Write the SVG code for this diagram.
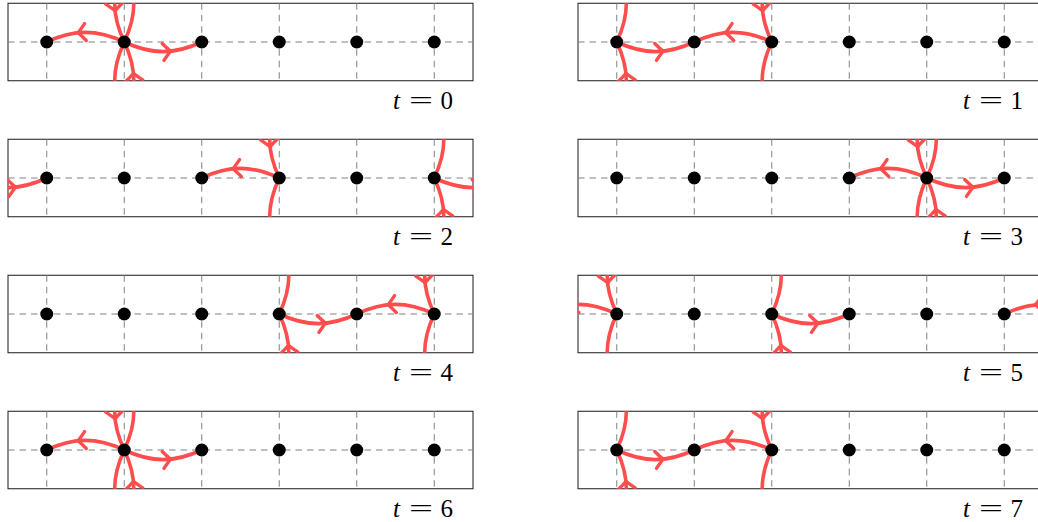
<svg xmlns="http://www.w3.org/2000/svg" xmlns:xlink="http://www.w3.org/1999/xlink" width="1038" height="522" viewBox="0 0 1038 522">
<style>
.box{fill:none;stroke:#1a1a1a;stroke-width:1}
.grid{fill:none;stroke:#808080;stroke-width:1;stroke-dasharray:6.5 5}
.edge{fill:none;stroke:#ff4d4d;stroke-width:3.6;stroke-linecap:round}
.tip{fill:none;stroke:#ff4d4d;stroke-width:3.4;stroke-linecap:round;stroke-linejoin:round}
.dot{fill:#000}
.lbl{font-family:"Liberation Serif",serif;font-size:25px;fill:#000}
.it{font-style:italic}
</style>
<defs>
<clipPath id="clip" clipPathUnits="userSpaceOnUse"><rect x="8" y="3.25" width="465" height="77.5"/></clipPath>
<path id="chev" class="tip" d="M-7.5,-8.5 Q-2.5,-2.5 0,0 Q-2.5,2.5 -7.5,8.5"/>
<g id="frame">
<rect class="box" x="8" y="3.25" width="465" height="77.5" fill="none"/>
<path class="grid" d="M8,42H473 M46.75,3.25V80.75 M124.25,3.25V80.75 M201.75,3.25V80.75 M279.25,3.25V80.75 M356.75,3.25V80.75 M434.25,3.25V80.75"/>
</g>
</defs>

<!-- t = 0 -->
<g id="panel-t0" transform="translate(0,0)">
<use xlink:href="#frame" href="#frame"/>
<g id="t0-connectors" clip-path="url(#clip)">
<path class="edge" d="M124.25,42 C96.75,29.2 74.25,29.2 46.75,42"/>
<use href="#chev" transform="translate(77.95,32.8) rotate(174.2)"/>
<path class="edge" d="M124.25,42 C151.75,54.8 174.25,54.8 201.75,42"/>
<use href="#chev" transform="translate(170.55,51.2) rotate(-5.8)"/>
<path class="edge" d="M124.25,-35.5 C111.45,-8 111.45,14.5 124.25,42 C111.45,69.5 111.45,92 124.25,119.5"/>
<use href="#chev" transform="translate(115.05,10.8) rotate(84.2)"/>
<path class="edge" d="M124.25,119.5 C137.05,92 137.05,69.5 124.25,42 C137.05,14.5 137.05,-8 124.25,-35.5"/>
<use href="#chev" transform="translate(133.45,73.2) rotate(-95.8)"/>
</g>
<g id="t0-n1"><circle class="dot" cx="46.75" cy="42" r="6.5"/></g>
<g id="t0-n2"><circle class="dot" cx="124.25" cy="42" r="6.5"/></g>
<g id="t0-n3"><circle class="dot" cx="201.75" cy="42" r="6.5"/></g>
<g id="t0-n4"><circle class="dot" cx="279.25" cy="42" r="6.5"/></g>
<g id="t0-n5"><circle class="dot" cx="356.75" cy="42" r="6.5"/></g>
<g id="t0-n6"><circle class="dot" cx="434.25" cy="42" r="6.5"/></g>
<g class="lbl"><text x="393" y="109" class="it">t</text><text x="409" y="109" textLength="24" lengthAdjust="spacingAndGlyphs">=</text><text x="440.5" y="109">0</text></g>
</g>

<!-- t = 1 -->
<g id="panel-t1" transform="translate(570,0)">
<use href="#frame"/>
<g id="t1-connectors" clip-path="url(#clip)">
<path class="edge" d="M46.75,42 C74.25,54.8 96.75,54.8 124.25,42"/>
<use href="#chev" transform="translate(93.05,51.2) rotate(-5.8)"/>
<path class="edge" d="M201.75,42 C174.25,29.2 151.75,29.2 124.25,42"/>
<use href="#chev" transform="translate(155.45,32.8) rotate(174.2)"/>
<path class="edge" d="M46.75,119.5 C59.55,92 59.55,69.5 46.75,42 C59.55,14.5 59.55,-8 46.75,-35.5"/>
<use href="#chev" transform="translate(55.95,73.2) rotate(-95.8)"/>
<path class="edge" d="M201.75,-35.5 C188.95,-8 188.95,14.5 201.75,42 C188.95,69.5 188.95,92 201.75,119.5"/>
<use href="#chev" transform="translate(192.55,10.8) rotate(84.2)"/>
</g>
<g id="t1-n1"><circle class="dot" cx="46.75" cy="42" r="6.5"/></g>
<g id="t1-n2"><circle class="dot" cx="124.25" cy="42" r="6.5"/></g>
<g id="t1-n3"><circle class="dot" cx="201.75" cy="42" r="6.5"/></g>
<g id="t1-n4"><circle class="dot" cx="279.25" cy="42" r="6.5"/></g>
<g id="t1-n5"><circle class="dot" cx="356.75" cy="42" r="6.5"/></g>
<g id="t1-n6"><circle class="dot" cx="434.25" cy="42" r="6.5"/></g>
<g class="lbl"><text x="393" y="109" class="it">t</text><text x="409" y="109" textLength="24" lengthAdjust="spacingAndGlyphs">=</text><text x="440.5" y="109">1</text></g>
</g>

<!-- t = 2 -->
<g id="panel-t2" transform="translate(0,136)">
<use href="#frame"/>
<g id="t2-connectors" clip-path="url(#clip)">
<path class="edge" d="M-30.75,42 C-3.25,54.8 19.25,54.8 46.75,42"/>
<use href="#chev" transform="translate(15.55,51.2) rotate(-5.8)"/>
<path class="edge" d="M434.25,42 C461.75,54.8 484.25,54.8 511.75,42"/>
<use href="#chev" transform="translate(480.55,51.2) rotate(-5.8)"/>
<path class="edge" d="M279.25,42 C251.75,29.2 229.25,29.2 201.75,42"/>
<use href="#chev" transform="translate(232.95,32.8) rotate(174.2)"/>
<path class="edge" d="M279.25,-35.5 C266.45,-8 266.45,14.5 279.25,42 C266.45,69.5 266.45,92 279.25,119.5"/>
<use href="#chev" transform="translate(270.05,10.8) rotate(84.2)"/>
<path class="edge" d="M434.25,119.5 C447.05,92 447.05,69.5 434.25,42 C447.05,14.5 447.05,-8 434.25,-35.5"/>
<use href="#chev" transform="translate(443.45,73.2) rotate(-95.8)"/>
</g>
<g id="t2-n1"><circle class="dot" cx="46.75" cy="42" r="6.5"/></g>
<g id="t2-n2"><circle class="dot" cx="124.25" cy="42" r="6.5"/></g>
<g id="t2-n3"><circle class="dot" cx="201.75" cy="42" r="6.5"/></g>
<g id="t2-n4"><circle class="dot" cx="279.25" cy="42" r="6.5"/></g>
<g id="t2-n5"><circle class="dot" cx="356.75" cy="42" r="6.5"/></g>
<g id="t2-n6"><circle class="dot" cx="434.25" cy="42" r="6.5"/></g>
<g class="lbl"><text x="393" y="109" class="it">t</text><text x="409" y="109" textLength="24" lengthAdjust="spacingAndGlyphs">=</text><text x="440.5" y="109">2</text></g>
</g>

<!-- t = 3 -->
<g id="panel-t3" transform="translate(570,136)">
<use href="#frame"/>
<g id="t3-connectors" clip-path="url(#clip)">
<path class="edge" d="M356.75,42 C329.25,29.2 306.75,29.2 279.25,42"/>
<use href="#chev" transform="translate(310.45,32.8) rotate(174.2)"/>
<path class="edge" d="M356.75,42 C384.25,54.8 406.75,54.8 434.25,42"/>
<use href="#chev" transform="translate(403.05,51.2) rotate(-5.8)"/>
<path class="edge" d="M356.75,-35.5 C343.95,-8 343.95,14.5 356.75,42 C343.95,69.5 343.95,92 356.75,119.5"/>
<use href="#chev" transform="translate(347.55,10.8) rotate(84.2)"/>
<path class="edge" d="M356.75,119.5 C369.55,92 369.55,69.5 356.75,42 C369.55,14.5 369.55,-8 356.75,-35.5"/>
<use href="#chev" transform="translate(365.95,73.2) rotate(-95.8)"/>
</g>
<g id="t3-n1"><circle class="dot" cx="46.75" cy="42" r="6.5"/></g>
<g id="t3-n2"><circle class="dot" cx="124.25" cy="42" r="6.5"/></g>
<g id="t3-n3"><circle class="dot" cx="201.75" cy="42" r="6.5"/></g>
<g id="t3-n4"><circle class="dot" cx="279.25" cy="42" r="6.5"/></g>
<g id="t3-n5"><circle class="dot" cx="356.75" cy="42" r="6.5"/></g>
<g id="t3-n6"><circle class="dot" cx="434.25" cy="42" r="6.5"/></g>
<g class="lbl"><text x="393" y="109" class="it">t</text><text x="409" y="109" textLength="24" lengthAdjust="spacingAndGlyphs">=</text><text x="440.5" y="109">3</text></g>
</g>

<!-- t = 4 -->
<g id="panel-t4" transform="translate(0,272)">
<use href="#frame"/>
<g id="t4-connectors" clip-path="url(#clip)">
<path class="edge" d="M279.25,42 C306.75,54.8 329.25,54.8 356.75,42"/>
<use href="#chev" transform="translate(325.55,51.2) rotate(-5.8)"/>
<path class="edge" d="M434.25,42 C406.75,29.2 384.25,29.2 356.75,42"/>
<use href="#chev" transform="translate(387.95,32.8) rotate(174.2)"/>
<path class="edge" d="M279.25,119.5 C292.05,92 292.05,69.5 279.25,42 C292.05,14.5 292.05,-8 279.25,-35.5"/>
<use href="#chev" transform="translate(288.45,73.2) rotate(-95.8)"/>
<path class="edge" d="M434.25,-35.5 C421.45,-8 421.45,14.5 434.25,42 C421.45,69.5 421.45,92 434.25,119.5"/>
<use href="#chev" transform="translate(425.05,10.8) rotate(84.2)"/>
</g>
<g id="t4-n1"><circle class="dot" cx="46.75" cy="42" r="6.5"/></g>
<g id="t4-n2"><circle class="dot" cx="124.25" cy="42" r="6.5"/></g>
<g id="t4-n3"><circle class="dot" cx="201.75" cy="42" r="6.5"/></g>
<g id="t4-n4"><circle class="dot" cx="279.25" cy="42" r="6.5"/></g>
<g id="t4-n5"><circle class="dot" cx="356.75" cy="42" r="6.5"/></g>
<g id="t4-n6"><circle class="dot" cx="434.25" cy="42" r="6.5"/></g>
<g class="lbl"><text x="393" y="109" class="it">t</text><text x="409" y="109" textLength="24" lengthAdjust="spacingAndGlyphs">=</text><text x="440.5" y="109">4</text></g>
</g>

<!-- t = 5 -->
<g id="panel-t5" transform="translate(570,272)">
<use href="#frame"/>
<g id="t5-connectors" clip-path="url(#clip)">
<path class="edge" d="M511.75,42 C484.25,29.2 461.75,29.2 434.25,42"/>
<use href="#chev" transform="translate(465.45,32.8) rotate(174.2)"/>
<path class="edge" d="M46.75,42 C19.25,29.2 -3.25,29.2 -30.75,42"/>
<use href="#chev" transform="translate(0.45,32.8) rotate(174.2)"/>
<path class="edge" d="M201.75,42 C229.25,54.8 251.75,54.8 279.25,42"/>
<use href="#chev" transform="translate(248.05,51.2) rotate(-5.8)"/>
<path class="edge" d="M46.75,-35.5 C33.95,-8 33.95,14.5 46.75,42 C33.95,69.5 33.95,92 46.75,119.5"/>
<use href="#chev" transform="translate(37.55,10.8) rotate(84.2)"/>
<path class="edge" d="M201.75,119.5 C214.55,92 214.55,69.5 201.75,42 C214.55,14.5 214.55,-8 201.75,-35.5"/>
<use href="#chev" transform="translate(210.95,73.2) rotate(-95.8)"/>
</g>
<g id="t5-n1"><circle class="dot" cx="46.75" cy="42" r="6.5"/></g>
<g id="t5-n2"><circle class="dot" cx="124.25" cy="42" r="6.5"/></g>
<g id="t5-n3"><circle class="dot" cx="201.75" cy="42" r="6.5"/></g>
<g id="t5-n4"><circle class="dot" cx="279.25" cy="42" r="6.5"/></g>
<g id="t5-n5"><circle class="dot" cx="356.75" cy="42" r="6.5"/></g>
<g id="t5-n6"><circle class="dot" cx="434.25" cy="42" r="6.5"/></g>
<g class="lbl"><text x="393" y="109" class="it">t</text><text x="409" y="109" textLength="24" lengthAdjust="spacingAndGlyphs">=</text><text x="440.5" y="109">5</text></g>
</g>

<!-- t = 6 -->
<g id="panel-t6" transform="translate(0,408)">
<use href="#frame"/>
<g id="t6-connectors" clip-path="url(#clip)">
<path class="edge" d="M124.25,42 C96.75,29.2 74.25,29.2 46.75,42"/>
<use href="#chev" transform="translate(77.95,32.8) rotate(174.2)"/>
<path class="edge" d="M124.25,42 C151.75,54.8 174.25,54.8 201.75,42"/>
<use href="#chev" transform="translate(170.55,51.2) rotate(-5.8)"/>
<path class="edge" d="M124.25,-35.5 C111.45,-8 111.45,14.5 124.25,42 C111.45,69.5 111.45,92 124.25,119.5"/>
<use href="#chev" transform="translate(115.05,10.8) rotate(84.2)"/>
<path class="edge" d="M124.25,119.5 C137.05,92 137.05,69.5 124.25,42 C137.05,14.5 137.05,-8 124.25,-35.5"/>
<use href="#chev" transform="translate(133.45,73.2) rotate(-95.8)"/>
</g>
<g id="t6-n1"><circle class="dot" cx="46.75" cy="42" r="6.5"/></g>
<g id="t6-n2"><circle class="dot" cx="124.25" cy="42" r="6.5"/></g>
<g id="t6-n3"><circle class="dot" cx="201.75" cy="42" r="6.5"/></g>
<g id="t6-n4"><circle class="dot" cx="279.25" cy="42" r="6.5"/></g>
<g id="t6-n5"><circle class="dot" cx="356.75" cy="42" r="6.5"/></g>
<g id="t6-n6"><circle class="dot" cx="434.25" cy="42" r="6.5"/></g>
<g class="lbl"><text x="393" y="109" class="it">t</text><text x="409" y="109" textLength="24" lengthAdjust="spacingAndGlyphs">=</text><text x="440.5" y="109">6</text></g>
</g>

<!-- t = 7 -->
<g id="panel-t7" transform="translate(570,408)">
<use href="#frame"/>
<g id="t7-connectors" clip-path="url(#clip)">
<path class="edge" d="M46.75,42 C74.25,54.8 96.75,54.8 124.25,42"/>
<use href="#chev" transform="translate(93.05,51.2) rotate(-5.8)"/>
<path class="edge" d="M201.75,42 C174.25,29.2 151.75,29.2 124.25,42"/>
<use href="#chev" transform="translate(155.45,32.8) rotate(174.2)"/>
<path class="edge" d="M46.75,119.5 C59.55,92 59.55,69.5 46.75,42 C59.55,14.5 59.55,-8 46.75,-35.5"/>
<use href="#chev" transform="translate(55.95,73.2) rotate(-95.8)"/>
<path class="edge" d="M201.75,-35.5 C188.95,-8 188.95,14.5 201.75,42 C188.95,69.5 188.95,92 201.75,119.5"/>
<use href="#chev" transform="translate(192.55,10.8) rotate(84.2)"/>
</g>
<g id="t7-n1"><circle class="dot" cx="46.75" cy="42" r="6.5"/></g>
<g id="t7-n2"><circle class="dot" cx="124.25" cy="42" r="6.5"/></g>
<g id="t7-n3"><circle class="dot" cx="201.75" cy="42" r="6.5"/></g>
<g id="t7-n4"><circle class="dot" cx="279.25" cy="42" r="6.5"/></g>
<g id="t7-n5"><circle class="dot" cx="356.75" cy="42" r="6.5"/></g>
<g id="t7-n6"><circle class="dot" cx="434.25" cy="42" r="6.5"/></g>
<g class="lbl"><text x="393" y="109" class="it">t</text><text x="409" y="109" textLength="24" lengthAdjust="spacingAndGlyphs">=</text><text x="440.5" y="109">7</text></g>
</g>
</svg>
